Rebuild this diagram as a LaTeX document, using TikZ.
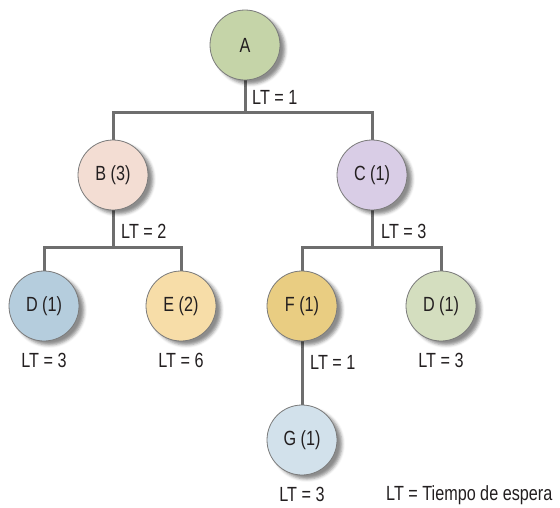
\documentclass[tikz,border=0pt]{standalone}
\usepackage{fontspec}
\setmainfont[FakeStretch=0.79]{Liberation Sans}
\usetikzlibrary{positioning,shadows.blur,backgrounds}
\definecolor{ink}  {HTML}{231F20}
\definecolor{rim}  {HTML}{7A7A7A}
\definecolor{wire} {HTML}{6E6E6E}
\definecolor{sage} {HTML}{C5D4A8}
\definecolor{blush}{HTML}{F3DDD3}
\definecolor{lilac}{HTML}{D9CDE6}
\definecolor{steel}{HTML}{B5CDDD}
\definecolor{peach}{HTML}{F7DDA8}
\definecolor{gold} {HTML}{E9CD82}
\definecolor{moss} {HTML}{D4DEBF}
\definecolor{frost}{HTML}{D2E1EB}

\begin{document}
\begin{tikzpicture}[x=1pt,y=1pt,
  font=\fontsize{20.5}{22}\selectfont,
  item/.style={circle, draw=rim, line width=0.8pt, minimum size=70pt, inner sep=0pt, text=ink,
    blur shadow={shadow xshift=5pt, shadow yshift=-4pt, shadow blur radius=3pt, shadow opacity=45}},
  link/.style={draw=wire, line width=3pt},
  lt/.style={text=ink, inner sep=0pt}]
 \useasboundingbox (0,0) rectangle (560,-507);
 % items
 \node[item, fill=sage]  (A)  at (245,-45)  {A};
 \node[item, fill=blush] (B)  at (113,-175) {B (3)};
 \node[item, fill=lilac] (C)  at (372,-175) {C (1)};
 \node[item, fill=steel] (D1) at (44,-306)  {D (1)};
 \node[item, fill=peach] (E)  at (181,-306) {E (2)};
 \node[item, fill=gold]  (F)  at (302,-306) {F (1)};
 \node[item, fill=moss]  (D2) at (441,-306) {D (1)};
 \node[item, fill=frost] (G)  at (302,-440) {G (1)};
 % links
 \begin{scope}[on background layer]
  \draw[link] (A.south) -- ++(0,-32) -| (B.north);
  \draw[link] (A.south) -- ++(0,-32) -| (C.north);
  \draw[link] (B.south) -- ++(0,-37) -| (D1.north);
  \draw[link] (B.south) -- ++(0,-37) -| (E.north);
  \draw[link] (C.south) -- ++(0,-37) -| (F.north);
  \draw[link] (C.south) -- ++(0,-37) -| (D2.north);
  \draw[link] (F.south) -- (G.north);
 \end{scope}
 % lead times
 \node[lt, anchor=west] (ltA) at (252,-97)  {LT = 1};
 \node[lt, anchor=west] (ltB) at (121,-231) {LT = 2};
 \node[lt, anchor=west] (ltC) at (381,-231) {LT = 3};
 \node[lt, anchor=west] (ltF) at (310,-362) {LT = 1};
 \node[lt, below=12pt of D1] (ltD1) {LT = 3};
 \node[lt, below=12pt of E]  (ltE)  {LT = 6};
 \node[lt, below=12pt of D2] (ltD2) {LT = 3};
 \node[lt, below=12pt of G]  (ltG)  {LT = 3};
 \node[lt, anchor=west] (key) at (386,-495) {LT = Tiempo de espera};
\end{tikzpicture}
\end{document}
